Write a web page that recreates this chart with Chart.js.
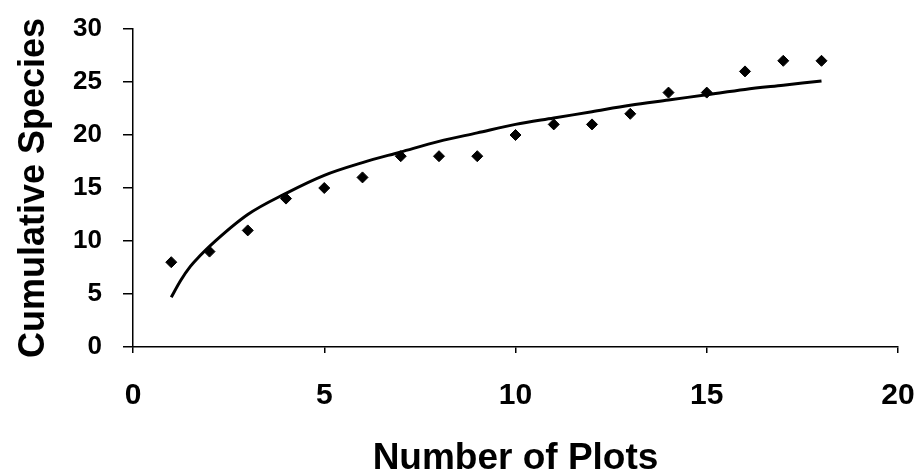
<!DOCTYPE html>
<html>
<head>
<meta charset="utf-8">
<script src="https://cdn.jsdelivr.net/npm/chart.js@4.4.0/dist/chart.umd.js"></script>
<style>
  html, body { margin: 0; padding: 0; background: #fff; }
  #wrap { width: 919px; height: 472px; position: relative; }
</style>
</head>
<body>
<div id="wrap"><canvas id="chart"></canvas></div>
<script>
// number of plots sampled
const plots = [1, 2, 3, 4, 5, 6, 7, 8, 9, 10, 11, 12, 13, 14, 15, 16, 17, 18];
// cumulative species observed
const species = [8, 9, 11, 14, 15, 16, 18, 18, 18, 20, 21, 21, 22, 24, 24, 26, 27, 27];
// fitted trend line
const trendX = [1, 1.25, 1.5, 1.75, 2, 3, 4, 5, 6, 7, 8, 9, 10, 11, 12, 13, 14, 15, 16, 17, 18];
const trendY = [4.7, 6.3, 7.6, 8.6, 9.5, 12.5, 14.5, 16.2, 17.4, 18.4, 19.4, 20.2, 21.0, 21.6, 22.2, 22.8, 23.3, 23.8, 24.3, 24.7, 25.1];
const xTicks = [0, 5, 10, 15, 20];
const yTicks = [0, 5, 10, 15, 20, 25, 30];

const fam = 'Liberation Sans, Arial, Helvetica, sans-serif';

new Chart(document.getElementById('chart'), {
    type: 'scatter',
    data: {
        datasets: [{
            label: 'Observed',
            data: plots.map((p, i) => ({ x: p, y: species[i] })),
            pointStyle: 'rectRot',
            pointRadius: 5.5,
            backgroundColor: '#000',
            borderColor: '#000',
            showLine: false
        }, {
            label: 'Trend',
            data: trendX.map((p, i) => ({ x: p, y: trendY[i] })),
            showLine: true,
            pointRadius: 0,
            borderColor: '#000',
            borderWidth: 3,
            cubicInterpolationMode: 'monotone'
        }]
    },
    options: {
        responsive: true,
        maintainAspectRatio: false,
        animation: false,
        layout: { padding: { top: 29, right: 21, left: 0, bottom: 0 } },
        plugins: { legend: { display: false }, tooltip: { enabled: false } },
        scales: {
            x: {
                type: 'linear',
                min: 0, max: 20,
                afterBuildTicks: s => { s.ticks = xTicks.map(v => ({ value: v })); },
                grid: { drawOnChartArea: false, drawTicks: true, tickLength: 6, color: '#000', lineWidth: 1.5 },
                border: { color: '#000', width: 1.5 },
                ticks: { color: '#000', font: { family: fam, size: 30, weight: 'bold' }, padding: 25, maxRotation: 0 },
                title: {
                    display: true, text: 'Number of Plots', color: '#000',
                    font: { family: fam, size: 37, weight: 'bold', lineHeight: 0.7 },
                    padding: 0
                },
                afterFit: s => {
                    s.height = 472 - 347;
                    s.paddingLeft = 0;
                    s.paddingRight = 0;
                }
            },
            y: {
                min: 0, max: 30,
                afterBuildTicks: s => { s.ticks = yTicks.map(v => ({ value: v })); },
                grid: { drawOnChartArea: false, drawTicks: true, tickLength: 10, color: '#000', lineWidth: 1.5 },
                border: { color: '#000', width: 1.5 },
                ticks: { color: '#000', font: { family: fam, size: 26, weight: 'bold' }, padding: 21 },
                title: {
                    display: true, text: 'Cumulative Species', color: '#000',
                    font: { family: fam, size: 36, weight: 'bold' },
                    padding: { top: 12, bottom: 0 }
                },
                afterFit: s => {
                    s.width = 133;
                    s.paddingTop = 0;
                    s.paddingBottom = 0;
                }
            }
        }
    }
});
</script>
</body>
</html>
